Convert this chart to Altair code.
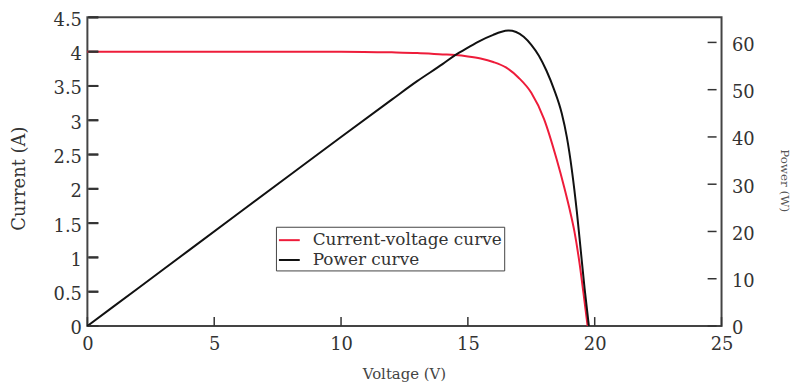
import altair as alt
import pandas as pd

# Current-voltage curve (V, A)
cur_v = [0, 2, 4, 6, 8, 10, 12, 13, 14, 14.5, 15, 15.5, 16, 16.5, 17, 17.5, 18, 18.5, 18.8, 19.0, 19.2, 19.4, 19.55, 19.72]
cur_i = [4.00, 4.00, 4.00, 4.00, 4.00, 4.00, 3.99, 3.98, 3.96, 3.95, 3.93, 3.90, 3.85, 3.77, 3.62, 3.40, 3.02, 2.43, 2.02, 1.72, 1.38, 0.92, 0.50, 0.0]

# Power curve (V, W)
pow_v = [0, 2, 4, 6, 8, 10, 12, 13, 14, 14.5, 15, 15.5, 16, 16.3, 16.6, 16.9, 17.2, 17.5, 17.8, 18.1, 18.4, 18.7, 18.9, 19.1, 19.3, 19.45, 19.6, 19.77]
pow_w = [0, 8.0, 16.0, 24.0, 32.0, 40.0, 47.9, 51.8, 55.4, 57.3, 58.9, 60.4, 61.6, 62.2, 62.5, 62.2, 61.2, 59.5, 57.2, 54.0, 50.0, 45.0, 40.0, 33.0, 24.0, 16.0, 8.0, 0]

x_ticks = [0, 5, 10, 15, 20, 25]
left_ticks = [0, 0.5, 1, 1.5, 2, 2.5, 3, 3.5, 4, 4.5]
right_ticks = [0, 10, 20, 30, 40, 50, 60]

series_names = ["Current-voltage curve", "Power curve"]
series_colors = ["#ee1c3a", "#111111"]

W, H = 639, 311
FONT = "DejaVu Serif"
X_DOM = [0, 25]
L_DOM = [0, 4.5]
R_DOM = [0, 65.3]

cur_df = pd.DataFrame({"v": cur_v, "val": cur_i, "series": series_names[0]})
pow_df = pd.DataFrame({"v": pow_v, "val": pow_w, "series": series_names[1]})

color = alt.Color(
    "series:N",
    scale=alt.Scale(domain=series_names, range=series_colors),
    legend=alt.Legend(
        title=None, orient="none", legendX=190, legendY=211,
        symbolType="stroke", symbolSize=441, symbolStrokeWidth=2,
        labelFont=FONT, labelFontSize=17, labelColor="#333", labelLimit=500,
        strokeColor="#444", fillColor="white", padding=2, rowPadding=0,
        labelOffset=12,
    ),
)

x_axis = alt.Axis(
    title="Voltage (V)", values=x_ticks, ticks=False, domain=False, grid=False,
    labelFont=FONT, labelFontSize=18, labelColor="#333", labelPadding=10,
    labelFlush=False, titleFont=FONT, titleFontSize=15, titleFontWeight="normal",
    titleColor="#444", titleX=319, titleY=48, titleBaseline="middle", titleAlign="center",
)


def xenc(field):
    return alt.X(field, scale=alt.Scale(domain=X_DOM, nice=False), axis=x_axis)


left_axis = alt.Axis(
    title="Current (A)", orient="left", values=left_ticks, format=".1~f",
    ticks=False, domain=False, grid=False, labelFont=FONT, labelFontSize=18,
    labelOffset=3, labelColor="#333", labelPadding=6, titleFont=FONT, titleFontSize=18,
    titleFontWeight="normal", titleColor="#333", titleX=-68, titleY=162,
    titleAngle=-90, titleBaseline="middle", titleAlign="center",
)
right_axis = alt.Axis(
    title="Power (W)", orient="right", values=right_ticks, ticks=False,
    domain=False, grid=False, labelFont=FONT, labelFontSize=18, labelOffset=3,
    labelColor="#333", labelPadding=10, titleFont=FONT, titleFontSize=12,
    titleFontWeight="normal", titleColor="#555", titleX=63, titleY=164,
    titleAngle=90, titleBaseline="middle", titleAlign="center",
)

ly = alt.Y("val:Q", scale=alt.Scale(domain=L_DOM, nice=False), axis=left_axis)
ry = alt.Y("val:Q", scale=alt.Scale(domain=R_DOM, nice=False), axis=right_axis)

tick_color = "#333"

cur_line = alt.Chart(cur_df).mark_line(strokeWidth=2, interpolate="monotone").encode(
    x=xenc("v:Q"), y=ly, color=color,
)
xt = alt.Chart(pd.DataFrame({"v": x_ticks})).mark_rule(color=tick_color, strokeWidth=1.5).encode(
    x=xenc("v:Q"), y=alt.value(H), y2=alt.value(H - 9),
)
lt_a = alt.Chart(pd.DataFrame({"val": left_ticks})).mark_rule(color=tick_color, strokeWidth=2).encode(
    y=ly, x=alt.value(1), x2=alt.value(11),
)
left_group = alt.layer(cur_line, xt, lt_a)

pow_line = alt.Chart(pow_df).mark_line(strokeWidth=2, interpolate="monotone").encode(
    x=xenc("v:Q"), y=ry,
    color=alt.Color("series:N", scale=alt.Scale(domain=series_names, range=series_colors), legend=None),
)
rt = alt.Chart(pd.DataFrame({"val": right_ticks})).mark_rule(color=tick_color, strokeWidth=1.5).encode(
    y=ry, x=alt.value(W - 14), x2=alt.value(W - 5),
)
# left-axis ticks placed on the power scale (same pixel rows as the current values)
lt_b = (
    alt.Chart(pd.DataFrame({"amp": left_ticks}))
    .transform_calculate(val="datum.amp * %s / %s" % (R_DOM[1], L_DOM[1]))
    .mark_rule(color=tick_color, strokeWidth=2)
    .encode(y=ry, x=alt.value(1), x2=alt.value(11))
)
right_group = alt.layer(pow_line, rt, lt_b)

chart = (
    alt.layer(left_group, right_group)
    .resolve_scale(y="independent")
    .properties(
        width=W, height=H,
        autosize=alt.AutoSizeParams(type="none"),
        padding={"left": 80, "top": 8, "right": 70, "bottom": 56},
        background="white",
    )
    .configure_view(stroke="#444", strokeWidth=2)
)

chart.save("out.html", embed_options={"renderer": "svg", "actions": False})
